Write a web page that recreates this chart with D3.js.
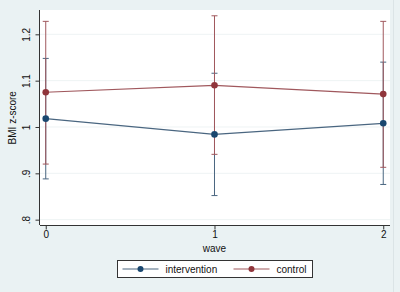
<!DOCTYPE html>
<html>
<head>
<meta charset="utf-8">
<script src="https://cdn.jsdelivr.net/npm/d3@7"></script>
<style>
  body { margin: 0; background: #eaf2f3; }
  svg { display: block; font-family: "Liberation Sans", Arial, sans-serif; }
</style>
</head>
<body>
<div id="container"></div>
<script>
/* DATA */
const waves = [0, 1, 2];
const yTicks = [0.8, 0.9, 1, 1.1, 1.2];
const yTickLabels = [".8", ".9", "1", "1.1", "1.2"];

const interventionMean = [1.018, 0.984, 1.008];
const interventionLow  = [0.888, 0.852, 0.876];
const interventionHigh = [1.148, 1.116, 1.140];

const controlMean = [1.075, 1.090, 1.071];
const controlLow  = [0.920, 0.941, 0.913];
const controlHigh = [1.228, 1.240, 1.228];

const seriesNames = ["intervention", "control"];

/* CONSTANTS */
const width = 400, height = 292;
const margin = {top: 10, bottom: 67, left: 40, right: 10};

const colors = {intervention: "#1a476f", control: "#90353b"};
const lineColors = {intervention: "#4a6680", control: "#a0585d"};

const series = [
  {name: "intervention", mean: interventionMean, low: interventionLow, high: interventionHigh},
  {name: "control", mean: controlMean, low: controlLow, high: controlHigh}
];

/* SCALES */
const xScale = d3.scaleLinear()
  .domain([-0.034, 2.04])
  .range([margin.left, width - margin.right]);

const yScale = d3.scaleLinear()
  .domain([0.7885, 1.2525])
  .range([height - margin.bottom, margin.top]);

/* SVG */
const svg = d3.select("#container")
  .append("svg")
  .attr("width", width)
  .attr("height", height);

svg.append("rect")
  .attr("width", width).attr("height", height)
  .attr("fill", "#eaf2f3");

// right edge strip
svg.append("line")
  .attr("x1", 393.5).attr("x2", 393.5)
  .attr("y1", 0).attr("y2", height)
  .attr("stroke", "#dbe4e6");

// plot region
svg.append("rect")
  .attr("x", margin.left).attr("y", margin.top)
  .attr("width", width - margin.left - margin.right)
  .attr("height", height - margin.top - margin.bottom)
  .attr("fill", "#ffffff");

// gridlines
svg.append("g")
  .selectAll("line")
  .data(yTicks)
  .join("line")
  .attr("x1", margin.left).attr("x2", width - margin.right)
  .attr("y1", d => yScale(d)).attr("y2", d => yScale(d))
  .attr("stroke", "#eef3f4")
  .attr("stroke-width", 1);

// error bars
series.forEach(s => {
  const g = svg.append("g").attr("stroke", lineColors[s.name]).attr("stroke-width", 1);
  g.selectAll(".bar")
    .data(waves)
    .join("line")
    .attr("x1", d => xScale(d)).attr("x2", d => xScale(d))
    .attr("y1", (d, i) => yScale(s.low[i])).attr("y2", (d, i) => yScale(s.high[i]));
  g.selectAll(".capTop")
    .data(waves)
    .join("line")
    .attr("x1", d => xScale(d) - 3).attr("x2", d => xScale(d) + 3)
    .attr("y1", (d, i) => yScale(s.high[i])).attr("y2", (d, i) => yScale(s.high[i]));
  g.selectAll(".capBot")
    .data(waves)
    .join("line")
    .attr("x1", d => xScale(d) - 3).attr("x2", d => xScale(d) + 3)
    .attr("y1", (d, i) => yScale(s.low[i])).attr("y2", (d, i) => yScale(s.low[i]));
});

// lines and markers
const line = d3.line()
  .x((d, i) => xScale(waves[i]))
  .y(d => yScale(d));

series.forEach(s => {
  svg.append("path")
    .datum(s.mean)
    .attr("d", line)
    .attr("fill", "none")
    .attr("stroke", lineColors[s.name])
    .attr("stroke-width", 1.2);
  svg.append("g")
    .selectAll("circle")
    .data(s.mean)
    .join("circle")
    .attr("cx", (d, i) => xScale(waves[i]))
    .attr("cy", d => yScale(d))
    .attr("r", 3.3)
    .attr("fill", colors[s.name]);
});

/* AXES */
const xAxis = d3.axisBottom(xScale)
  .tickValues(waves)
  .tickFormat(d3.format("d"))
  .tickSize(4)
  .tickSizeOuter(0);

const yAxis = d3.axisLeft(yScale)
  .tickValues(yTicks)
  .tickFormat((d, i) => yTickLabels[i])
  .tickSize(4)
  .tickSizeOuter(0);

const gx = svg.append("g")
  .attr("transform", `translate(0, ${height - margin.bottom + 0.5})`)
  .call(xAxis);
gx.select(".domain").attr("d", `M${margin.left},0H${width - margin.right}`).attr("stroke", "#333");
gx.selectAll(".tick line").attr("stroke", "#333");
gx.selectAll(".tick text").attr("font-size", 10).attr("fill", "#111").attr("y", 5).attr("dy", "0.71em");

const gy = svg.append("g")
  .attr("transform", `translate(${margin.left - 0.5}, 0)`)
  .call(yAxis);
gy.select(".domain").attr("d", `M0,${margin.top}V${height - margin.bottom}`).attr("stroke", "#333");
gy.selectAll(".tick line").attr("stroke", "#333");
gy.selectAll(".tick text")
  .attr("font-size", 10).attr("fill", "#111")
  .attr("x", 0).attr("dy", 0)
  .attr("text-anchor", "middle")
  .attr("transform", "translate(-10,0) rotate(-90)");

svg.append("text")
  .attr("transform", `translate(16, ${yScale(1.02)}) rotate(-90)`)
  .attr("text-anchor", "middle")
  .attr("font-size", 10)
  .attr("fill", "#111")
  .text("BMI z-score");

svg.append("text")
  .attr("x", xScale(1))
  .attr("y", 252)
  .attr("text-anchor", "middle")
  .attr("font-size", 10)
  .attr("fill", "#111")
  .text("wave");

/* LEGEND */
const legend = svg.append("g").attr("transform", "translate(117.5, 260.5)");
legend.append("rect")
  .attr("width", 195).attr("height", 17)
  .attr("fill", "#ffffff")
  .attr("stroke", "#333");

const legendX = [5, 116];
seriesNames.forEach((name, i) => {
  const g = legend.append("g").attr("transform", `translate(${legendX[i]}, 8.5)`);
  g.append("line")
    .attr("x1", 0).attr("x2", 36)
    .attr("stroke", lineColors[name]).attr("stroke-width", 1.2);
  g.append("circle")
    .attr("cx", 18).attr("r", 3)
    .attr("fill", colors[name]);
  g.append("text")
    .attr("x", 43).attr("dy", "0.35em")
    .attr("font-size", 10).attr("fill", "#111")
    .text(name);
});
</script>
</body>
</html>
